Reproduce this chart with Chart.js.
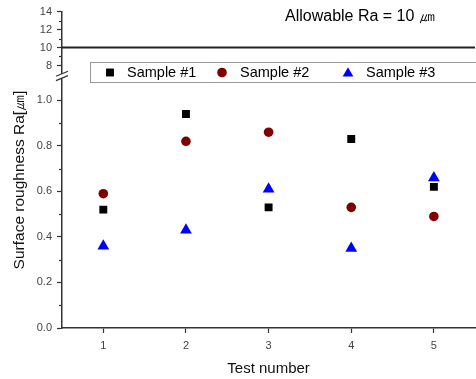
<!DOCTYPE html>
<html>
<head>
<meta charset="utf-8">
<script src="https://cdn.jsdelivr.net/npm/chart.js@4"></script>
<style>
  html, body { margin: 0; padding: 0; background: #fff; overflow: hidden; }
  #wrap { width: 482px; height: 379px; }
</style>
</head>
<body>
<div id="wrap"><canvas id="grafico"></canvas></div>
<script>
const tests = [1, 2, 3, 4, 5];
const sample1 = [0.52, 0.94, 0.53, 0.83, 0.62];
const sample2 = [0.59, 0.82, 0.86, 0.53, 0.49];
const sample3 = [0.36, 0.43, 0.61, 0.35, 0.66];
const seriesNames = ['Sample #1', 'Sample #2', 'Sample #3'];
const allowableRa = 10;
const xRange = [0.5, 5.5];
const lowerTicks = [0, 0.2, 0.4, 0.6, 0.8, 1.0];
const lowerMinor = [0.1, 0.3, 0.5, 0.7, 0.9];
const upperTicks = [8, 10, 12, 14];
const upperMinor = [9, 11, 13];

const FONT = "'Liberation Sans', Arial, sans-serif";
const colors = ['#000000', '#800000', '#0000ff'];
const styles = ['rect', 'circle', 'triangle'];
const radii = [5.6, 4.8, 6.8];

function pts(vals) {
    return tests.map((t, i) => ({ x: t, y: vals[i] }));
}

function drawMarker(ctx, style, x, y, r, color) {
    ctx.fillStyle = color;
    ctx.beginPath();
    if (style === 'rect') {
        const s = r * Math.SQRT1_2;
        ctx.rect(x - s, y - s, 2 * s, 2 * s);
    } else if (style === 'circle') {
        ctx.arc(x, y, r, 0, Math.PI * 2);
    } else {
        ctx.moveTo(x, y - r);
        ctx.lineTo(x + r * 0.866, y + r / 2);
        ctx.lineTo(x - r * 0.866, y + r / 2);
        ctx.closePath();
    }
    ctx.fill();
}

const decor = {
    id: 'decor',
    afterDraw(chart) {
        const ctx = chart.ctx;
        const L = chart.chartArea.left;
        const yLow = chart.scales.y;
        const yTop = chart.scales.yTop;
        ctx.save();

        // minor ticks
        ctx.strokeStyle = '#333';
        ctx.lineWidth = 1.2;
        [[yLow, lowerMinor], [yTop, upperMinor]].forEach(([s, vals]) => {
            vals.forEach(v => {
                const p = Math.round(s.getPixelForValue(v)) + 0.5;
                ctx.beginPath();
                ctx.moveTo(L - 3, p);
                ctx.lineTo(L, p);
                ctx.stroke();
            });
        });

        // axis break
        const yb = yLow.top;
        ctx.fillStyle = '#fff';
        ctx.fillRect(L - 3, yb - 2.2, 6, 4.4);
        ctx.strokeStyle = '#333';
        ctx.lineWidth = 1.2;
        [-2.2, 2.2].forEach(d => {
            ctx.beginPath();
            ctx.moveTo(L - 6, yb + d + 2.5);
            ctx.lineTo(L + 6, yb + d - 2.5);
            ctx.stroke();
        });

        // legend box
        ctx.strokeStyle = '#999';
        ctx.lineWidth = 1;
        ctx.fillStyle = '#fff';
        ctx.fillRect(90.5, 62.5, 400, 20);
        ctx.strokeRect(90.5, 62.5, 400, 20);
        const markX = [110, 222, 348];
        const textX = [127, 240, 366];
        ctx.font = '14.5px ' + FONT;
        ctx.textBaseline = 'middle';
        ctx.textAlign = 'left';
        seriesNames.forEach((name, i) => {
            drawMarker(ctx, styles[i], markX[i], i === 2 ? 73.5 : 72.5, i === 2 ? 6.2 : radii[i], colors[i]);
            ctx.fillStyle = '#000';
            ctx.fillText(name, textX[i], 73);
        });

        // allowable label
        ctx.font = '16px ' + FONT;
        ctx.fillStyle = '#000';
        ctx.fillText('Allowable Ra = ' + allowableRa + ' \u339b', 285, 17);

        // y title
        ctx.translate(20, 180);
        ctx.rotate(-Math.PI / 2);
        ctx.textAlign = 'center';
        ctx.font = '15.5px ' + FONT;
        ctx.fillStyle = '#111';
        ctx.fillText('Surface roughness Ra[\u339b]', 0, 0);
        ctx.restore();
    }
};

const tickFont = { family: FONT, size: 11 };

document.addEventListener('DOMContentLoaded', function() {
    const ctx = document.getElementById('grafico').getContext('2d');
    new Chart(ctx, {
        type: 'scatter',
        data: {
            datasets: [
                {
                    type: 'line',
                    label: 'Allowable',
                    data: [{ x: xRange[0], y: allowableRa }, { x: xRange[1], y: allowableRa }],
                    yAxisID: 'yTop',
                    borderColor: '#222',
                    borderWidth: 2,
                    pointRadius: 0
                },
                ...[sample1, sample2, sample3].map((vals, i) => ({
                    label: seriesNames[i],
                    data: pts(vals),
                    yAxisID: 'y',
                    pointStyle: styles[i],
                    pointRadius: radii[i],
                    backgroundColor: colors[i],
                    borderColor: colors[i],
                    borderWidth: 0
                }))
            ]
        },
        options: {
            responsive: true,
            maintainAspectRatio: false,
            animation: false,
            layout: { padding: { top: 11, right: 0, left: 0, bottom: 0 } },
            plugins: { legend: { display: false }, tooltip: { enabled: false } },
            scales: {
                x: {
                    type: 'linear',
                    min: xRange[0],
                    max: xRange[1],
                    afterBuildTicks: s => { s.ticks = tests.map(v => ({ value: v })); },
                    afterFit: s => { s.height = 51; },
                    ticks: { font: tickFont, color: '#444', padding: 6 },
                    grid: { drawOnChartArea: false, tickLength: 5, tickColor: '#333', tickWidth: 1.2 },
                    border: { color: '#333', width: 1.5 },
                    title: { display: true, text: 'Test number', font: { family: FONT, size: 15 }, color: '#111', padding: { top: 4, bottom: 1 } }
                },
                y: {
                    type: 'linear',
                    position: 'left',
                    stack: 'v',
                    stackWeight: 252.5,
                    min: 0,
                    max: 1.107,
                    afterBuildTicks: s => { s.ticks = lowerTicks.map(v => ({ value: v })); },
                    afterFit: s => { s.width = 62; },
                    ticks: { font: tickFont, color: '#444', padding: 5, autoSkip: false, callback: v => v.toFixed(1) },
                    grid: { drawOnChartArea: false, tickLength: 5, tickColor: '#333', tickWidth: 1.2 },
                    border: { color: '#333', width: 1.5 }
                },
                yTop: {
                    type: 'linear',
                    position: 'left',
                    stack: 'v',
                    stackWeight: 64.5,
                    min: 6.83,
                    max: 14,
                    afterBuildTicks: s => { s.ticks = upperTicks.map(v => ({ value: v })); },
                    afterFit: s => { s.width = 62; },
                    ticks: { font: tickFont, color: '#444', padding: 5, autoSkip: false },
                    grid: { drawOnChartArea: false, tickLength: 5, tickColor: '#333', tickWidth: 1.2 },
                    border: { color: '#333', width: 1.5 }
                }
            }
        },
        plugins: [decor]
    });
});
</script>
</body>
</html>
